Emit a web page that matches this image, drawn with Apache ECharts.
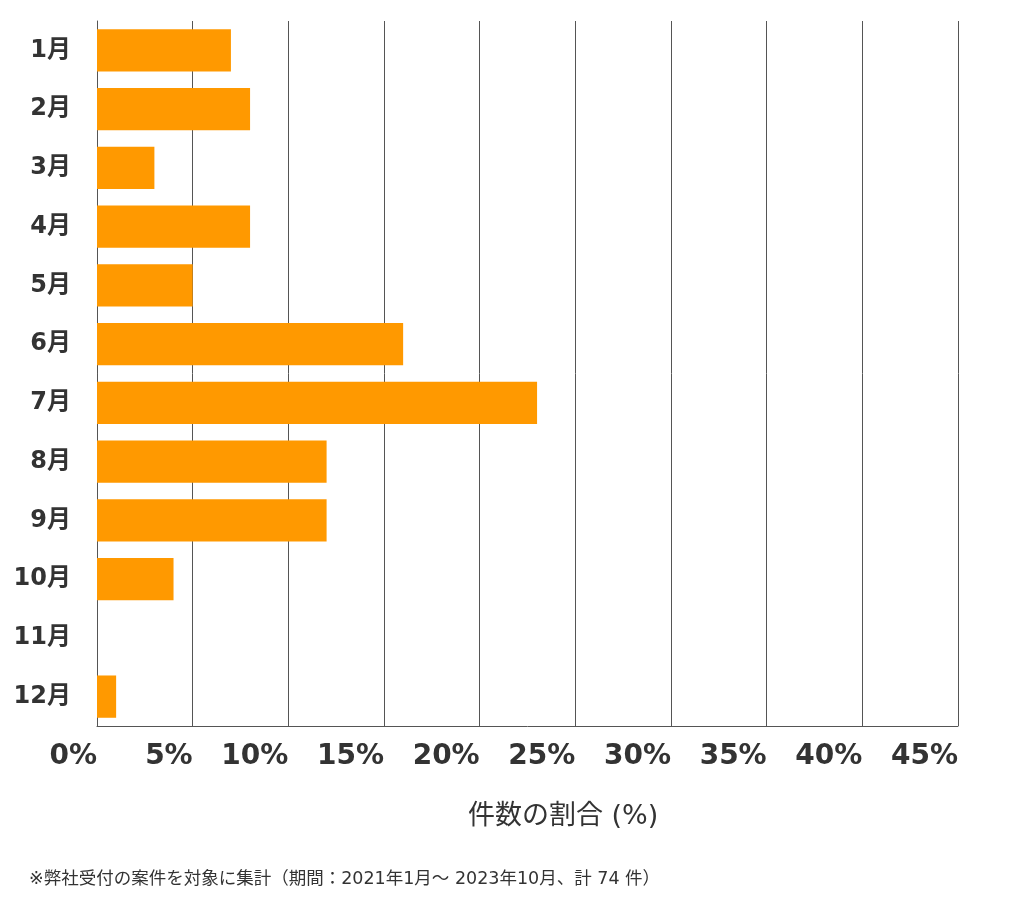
<!DOCTYPE html>
<html>
<head>
<meta charset="utf-8">
<script src="https://cdn.jsdelivr.net/npm/echarts@6/dist/echarts.min.js"></script>
<style>
  html, body { margin: 0; padding: 0; background: #fff; }
  #chart { width: 1024px; height: 905px; }
</style>
</head>
<body>
<div id="chart"></div>
<script>
// 月ラベル
var months = ['1月', '2月', '3月', '4月', '5月', '6月', '7月', '8月', '9月', '10月', '11月', '12月'];
// 件数の割合 (%)
var shares = [7, 8, 3, 8, 5, 16, 23, 12, 12, 4, 0, 1];
// 目盛り
var xMin = 0, xMax = 45, xStep = 5;

var labelFont = '"DejaVu Sans", "Noto Sans CJK JP", sans-serif';
var chart = echarts.init(document.getElementById('chart'));

var option = {
    animation: false,
    grid: { left: 97, right: 66, top: 21, bottom: 179, containLabel: false },
    xAxis: {
        type: 'value',
        min: xMin,
        max: xMax,
        interval: xStep,
        axisLine: { show: true, lineStyle: { color: '#555', width: 1 } },
        axisTick: { show: false },
        splitLine: { show: true, lineStyle: { color: '#555', width: 1 } },
        axisLabel: {
            formatter: '{value}%',
            align: 'right',
            margin: 17,
            color: '#333',
            fontSize: 28,
            fontWeight: 'bold',
            fontFamily: labelFont
        }
    },
    yAxis: {
        type: 'category',
        data: months,
        inverse: true,
        axisLine: { show: true, lineStyle: { color: '#555', width: 1 } },
        axisTick: { show: false },
        axisLabel: {
            margin: 26,
            color: '#333',
            fontSize: 24,
            fontWeight: 'bold',
            fontFamily: labelFont
        }
    },
    series: [{
        type: 'bar',
        data: shares,
        barCategoryGap: '28%',
        itemStyle: { color: '#ff9900' }
    }],
    graphic: [
        {
            type: 'text',
            left: 468,
            top: 803,
            style: {
                text: '件数の割合 (%)',
                fill: '#333',
                fontSize: 27,
                fontFamily: labelFont
            }
        },
        {
            type: 'text',
            left: 29,
            top: 871,
            style: {
                text: '※弊社受付の案件を対象に集計（期間：2021年1月～ 2023年10月、計 74 件）',
                fill: '#333',
                fontSize: 17.5,
                fontFamily: labelFont
            }
        }
    ]
};

chart.setOption(option);
</script>
</body>
</html>
